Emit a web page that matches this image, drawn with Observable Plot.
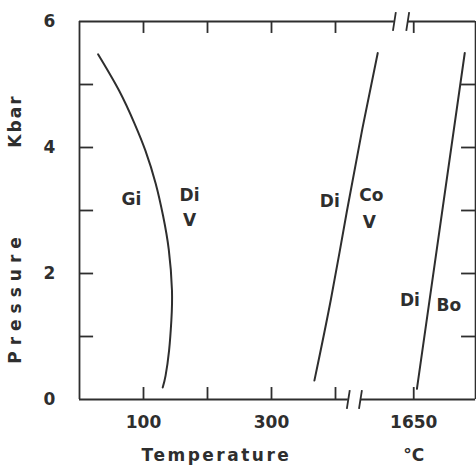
<!DOCTYPE html>
<html><head><meta charset="utf-8">
<script src="https://cdn.jsdelivr.net/npm/d3@7"></script>
<script src="https://cdn.jsdelivr.net/npm/@observablehq/plot@0.6"></script>
<style>body{margin:0;background:#fff}</style>
</head><body><div id="chart"></div>
<script>
// Gi = Di + V boundary (temperature °C, pressure kbar)
const giT = [29, 62, 86, 103, 119, 130.5, 139.5, 144.5, 143.5, 140, 134.5, 130];
const giP = [5.48, 4.90, 4.38, 3.95, 3.43, 2.92, 2.38, 1.73, 1.25, 0.78, 0.38, 0.19];
// Di = Co + V boundary
const coT = [367, 393, 418, 442, 466];
const coP = [0.30, 1.60, 3.00, 4.30, 5.50];
// Di = Bo boundary
const boT = [1655, 1730];
const boP = [0.17, 5.50];
// field labels
const labelText = ["Gi", "Di", "V", "Di", "Co", "V", "Di", "Bo"];
const labelT = [81, 172, 172, 391, 456, 453, 1644, 1705];
const labelP = [3.17, 3.24, 2.84, 3.14, 3.24, 2.81, 1.57, 1.49];
// axis ticks
const xTicks = [100, 200, 300, 400, 1650];
const xTickLabels = [100, 300, 1650];
const yTicks = [1, 2, 3, 4, 5];
const yTickLabels = [0, 2, 4, 6];

const toPts = (T, P) => T.map((t, i) => ({T: t, P: P[i]}));
const gi = toPts(giT, giP), co = toPts(coT, coP), bo = toPts(boT, boP);
const labels = labelText.map((s, i) => ({s, T: labelT[i], P: labelP[i]}));

const ink = "#2e2e2e";
const sw = 1.8;
const font = {fontFamily: "DejaVu Sans", fontWeight: "bold", fontSize: 17, fill: ink};

const xMin = 0, xMax = 1747;
const topSeg = [{x1: 0, x2: 492}, {x1: 1640.6, x2: 1747}];
const botSeg = [{x1: 0, x2: 420}, {x1: 439, x2: 1747}];
const breaksTop = [492, 1640.6], breaksBot = [420, 439];

const chart = Plot.plot({
  width: 476, height: 465,
  x: {type: "linear", domain: [0, 495, 1623, 1747], range: [79, 395.8, 396, 475.1], axis: null},
  y: {domain: [0, 6], range: [399, 21], axis: null},
  style: {background: "#fff", fontFamily: "DejaVu Sans"},
  marks: [
    // frame
    Plot.ruleX([xMin, xMax], {x: d => d, y1: 0, y2: 6, stroke: ink, strokeWidth: sw}),
    Plot.ruleY(topSeg, {y: 6, x1: "x1", x2: "x2", stroke: ink, strokeWidth: sw}),
    Plot.ruleY(botSeg, {y: 0, x1: "x1", x2: "x2", stroke: ink, strokeWidth: sw}),
    // break marks
    Plot.link(breaksTop, {x1: d => d - 2.3, x2: d => d + 2.3, y1: 6 - 0.15, y2: 6 + 0.15, stroke: ink, strokeWidth: sw}),
    Plot.link(breaksBot, {x1: d => d - 2.3, x2: d => d + 2.3, y1: 0 - 0.15, y2: 0 + 0.15, stroke: ink, strokeWidth: sw}),
    // ticks
    Plot.ruleX(xTicks, {x: d => d, y1: 0, y2: 0.19, stroke: ink, strokeWidth: sw}),
    Plot.ruleX(xTicks, {x: d => d, y1: 6, y2: 5.81, stroke: ink, strokeWidth: sw}),
    Plot.ruleY(yTicks, {y: d => d, x1: 0, x2: 22, stroke: ink, strokeWidth: sw}),
    Plot.ruleY(yTicks, {y: d => d, x1: 1725, x2: 1747, stroke: ink, strokeWidth: sw}),
    // tick labels
    Plot.text(xTickLabels, {x: d => d, y: 0, dy: 23, text: d => String(d), ...font}),
    Plot.text(yTickLabels, {x: 0, y: d => d, dx: -30, text: d => String(d), ...font}),
    // axis titles
    Plot.text(["Temperature"], {x: 214, y: 0, dy: 56, text: d => d, ...font}),
    Plot.text(["°C"], {x: 1650, y: 0, dy: 56, text: d => d, ...font}),
    Plot.text(["Pressure"], {x: 0, y: 1.62, dx: -64, rotate: -90, text: d => d, ...font}),
    Plot.text(["Kbar"], {x: 0, y: 4.42, dx: -64, rotate: -90, text: d => d, ...font}),
    // curves
    Plot.line(gi, {x: "T", y: "P", curve: "natural", stroke: ink, strokeWidth: 2}),
    Plot.line(co, {x: "T", y: "P", curve: "natural", stroke: ink, strokeWidth: 2}),
    Plot.line(bo, {x: "T", y: "P", stroke: ink, strokeWidth: 2}),
    // field labels
    Plot.text(labels, {x: "T", y: "P", text: "s", ...font})
  ]
});
chart.querySelectorAll("text").forEach(t => {
  const s = t.textContent;
  if (s === "Temperature") t.setAttribute("letter-spacing", "2.5");
  if (s === "Pressure") t.setAttribute("letter-spacing", "6");
  if (s === "Kbar") t.setAttribute("letter-spacing", "2");
});
document.getElementById("chart").appendChild(chart);
</script>
</body></html>
